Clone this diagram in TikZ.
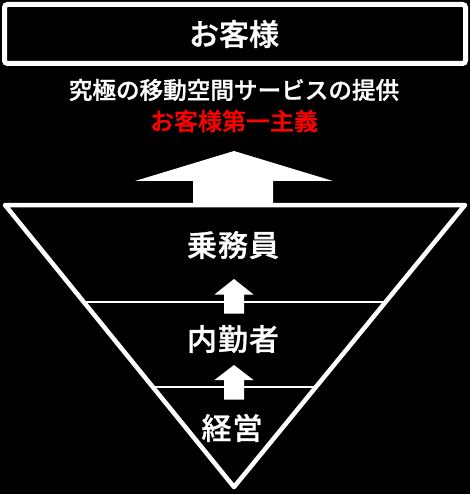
\documentclass[tikz,border=0pt]{standalone}
\usepackage{fontspec}
\newfontfamily\cjk[FakeBold=1]{Noto Sans CJK JP Medium}
\usetikzlibrary{calc}
\definecolor{accentred}{HTML}{FF0000}
\tikzset{
  lbl/.style={text=white, font=\cjk\fontsize{#1}{#1}\selectfont, inner sep=0pt, anchor=center},
  arrowshape/.style={fill=white, draw=none},
  frame/.style={draw=white, line width=4.5pt, line join=round},
  layerline/.style={draw=white, line width=2pt}
}
\begin{document}
\begin{tikzpicture}[x=1pt,y=-1pt]
\fill[black] (0,0) rectangle (470,494);
\useasboundingbox (0,0) rectangle (470,494);
% top box
\draw[draw=white, line width=5pt, rounded corners=3pt] (4.5,4.5) rectangle (465.5,63.5);
\node[lbl=30] (cust) at (234,34) {お客様};
\node[lbl=23.6] (line1) at (234,90) {究極の移動空間サービスの提供};
\node[lbl=24, text=accentred] (line2) at (234,121) {お客様第一主義};
% big arrow
\fill[arrowshape] (234,151) -- (333,181) -- (273,181) -- (273,206) -- (193,206) -- (193,181) -- (135,181) -- cycle;
% triangle
\coordinate (L) at (5,205);
\coordinate (R) at (465,205);
\coordinate (B) at (234,487);
\draw[frame] (L) -- (R) -- (B) -- cycle;
\draw[layerline] ($(L)!0.343!(B)$) -- ($(R)!0.343!(B)$);
\draw[layerline] ($(L)!0.644!(B)$) -- ($(R)!0.644!(B)$);
% small arrows
\fill[arrowshape] (234,279) -- (253.5,294.5) -- (244,294.5) -- (244,313.5) -- (224,313.5) -- (224,294.5) -- (214.5,294.5) -- cycle;
\fill[arrowshape] (234,365) -- (253.5,380) -- (244,380) -- (244,399.5) -- (224,399.5) -- (224,380) -- (214.5,380) -- cycle;
\node[lbl=30] (crew) at (233,245) {乗\kern1pt 務\kern1pt 員};
\node[lbl=30] (staff) at (233,339) {内\kern1pt 勤\kern1pt 者};
\node[lbl=30] (mgmt) at (232,428) {経\kern1pt 営};
\end{tikzpicture}
\end{document}
